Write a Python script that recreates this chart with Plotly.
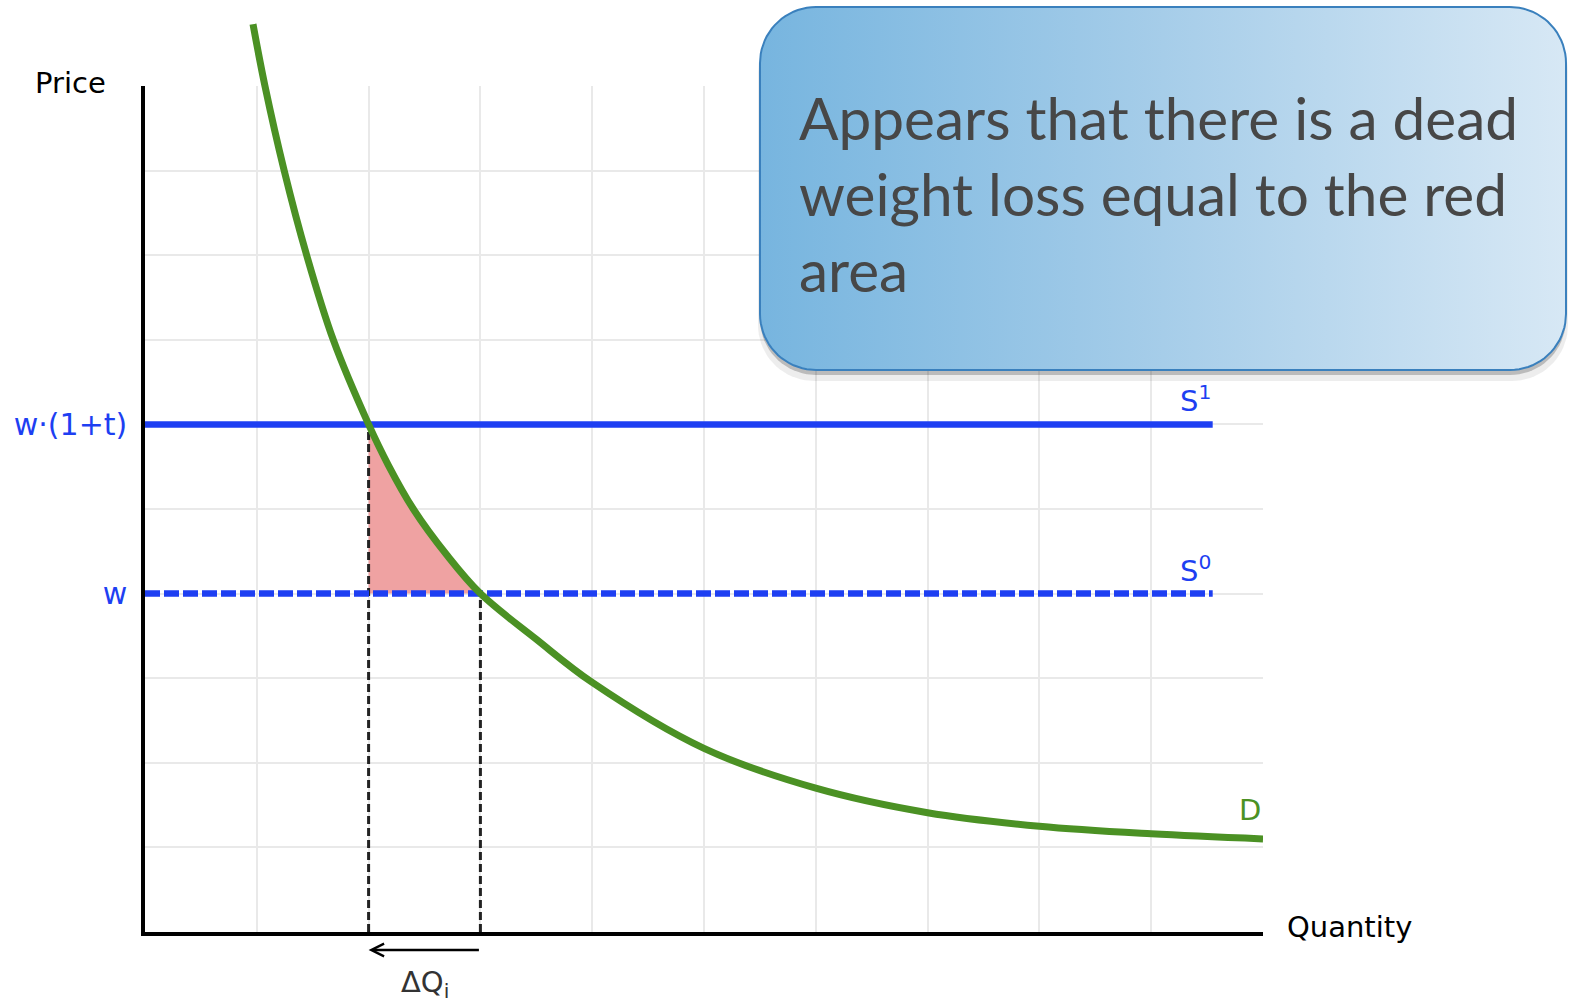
import numpy as np
import plotly.graph_objects as go

W, H = 1569, 1006

# Demand curve D (quantity, price)
demand_q = [0.966, 1.073, 1.245, 1.446, 1.684, 2.0, 2.176, 2.40, 2.70, 3.0,
            3.5, 4.0, 5.0, 6.0, 7.0, 8.0, 9.0, 10.0]
demand_p = [10.73, 10.0, 9.0, 8.0, 7.0, 6.0, 5.52, 5.0, 4.456, 4.0,
            3.46, 2.95, 2.17, 1.70, 1.41, 1.25, 1.16, 1.10]

# Supply price levels
price_taxed = 6.0      # w·(1+t)
price_base = 4.0       # w
supply_q = [0.0, 9.55]  # horizontal extent of S0 / S1

# Quantities demanded at each price
q_taxed = 2.0
q_base = 3.0

price_ticks = [price_taxed, price_base]
price_tick_text = ["w·(1+t)", "w"]

BLUE = "#1e3ff2"
GREEN = "#4b9124"
GRID = "#e9e9e9"

fig = go.Figure()

# dead weight loss area between the two price levels under the demand curve
dwl_q = [q_taxed] + [q for q in demand_q if q_taxed <= q <= q_base]
dwl_p = [price_base] + [p for q, p in zip(demand_q, demand_p) if q_taxed <= q <= q_base]
fig.add_trace(go.Scatter(x=dwl_q, y=dwl_p, fill="toself", fillcolor="#efa2a2",
                         mode="lines", line=dict(width=0), hoverinfo="skip"))

# dotted drop lines to the quantity axis
for q, p in [(q_taxed, price_taxed), (q_base, price_base)]:
    fig.add_trace(go.Scatter(x=[q, q], y=[0, p], mode="lines",
                             line=dict(color="#222222", width=3, dash="8px,4px"),
                             hoverinfo="skip"))

# supply lines
fig.add_trace(go.Scatter(x=supply_q, y=[price_taxed] * 2, mode="lines",
                         line=dict(color=BLUE, width=6.5), hoverinfo="skip"))
fig.add_trace(go.Scatter(x=supply_q, y=[price_base] * 2, mode="lines",
                         line=dict(color=BLUE, width=6.5, dash="15px,4px"),
                         hoverinfo="skip"))

# demand curve on an overlay axis pair that reaches above the grid
fig.add_trace(go.Scatter(x=demand_q, y=demand_p, mode="lines", xaxis="x2", yaxis="y2",
                         line=dict(color=GREEN, width=7, shape="spline", smoothing=1.0),
                         hoverinfo="skip"))


def rounded_rect(x0, y0, x1, y1, r, n=20):
    xs, ys = [], []
    corners = [(x1 - r, y0 + r, -90, 0), (x1 - r, y1 - r, 0, 90),
               (x0 + r, y1 - r, 90, 180), (x0 + r, y0 + r, 180, 270)]
    for cx, cy, a0, a1 in corners:
        t = np.radians(np.linspace(a0, a1, n))
        xs.extend(cx + r * np.cos(t))
        ys.extend(cy + r * np.sin(t))
    xs.append(xs[0])
    ys.append(ys[0])
    return xs, ys


bx0, by0, bx1, by1, br = 760, 7, 1566, 370, 56
for dx, dy, grow, col in [(0, 9, 2, "rgba(0,0,0,0.07)"), (0, 5, 0, "rgba(40,40,40,0.25)")]:
    sx, sy = rounded_rect(bx0 + dx - grow, by0 + dy, bx1 + dx + grow, by1 + dy + grow, br)
    fig.add_trace(go.Scatter(x=sx, y=sy, xaxis="x3", yaxis="y3", mode="lines",
                             fill="toself", fillcolor=col, line=dict(width=0),
                             hoverinfo="skip"))
cx_, cy_ = rounded_rect(bx0, by0, bx1, by1, br)
fig.add_trace(go.Scatter(x=cx_, y=cy_, xaxis="x3", yaxis="y3", mode="lines",
                         fill="toself",
                         fillgradient=dict(type="horizontal",
                                           colorscale=[[0, "#77b5df"], [0.5, "#a6cde9"], [1, "#d7e8f5"]]),
                         line=dict(color="#3a80bd", width=2), hoverinfo="skip"))

x_dom = [145 / W, 1263 / W]
y_dom = [(H - 932) / H, (H - 86) / H]
y2_dom = [(H - 932) / H, 1.0]
y2_top = 10 * (932) / (932 - 86)

fig.update_layout(
    width=W, height=H,
    margin=dict(l=0, r=0, t=0, b=0),
    paper_bgcolor="white", plot_bgcolor="rgba(0,0,0,0)",
    showlegend=False,
    xaxis=dict(domain=x_dom, range=[0, 10], tickvals=list(range(0, 11)), showticklabels=False,
               showgrid=True, gridcolor=GRID, gridwidth=1.5, zeroline=False,
               showline=True, linecolor="black", linewidth=3.5, ticks="", anchor="y",
               fixedrange=True),
    yaxis=dict(domain=y_dom, range=[0, 10], tickmode="array", tickvals=price_ticks,
               ticktext=price_tick_text, showgrid=True, gridcolor=GRID, gridwidth=1.5,
               minor=dict(dtick=1, tick0=0, showgrid=True, gridcolor=GRID, gridwidth=1.5, ticks=""),
               zeroline=False, showline=True, linecolor="black", linewidth=3.5, ticks="",
               ticklabelstandoff=8,
               tickfont=dict(family="DejaVu Sans", size=30, color=BLUE), anchor="x",
               fixedrange=True),
    xaxis2=dict(domain=x_dom, range=[0, 10], visible=False, anchor="y2", fixedrange=True),
    yaxis2=dict(domain=y2_dom, range=[0, y2_top], visible=False, anchor="x2", fixedrange=True),
    xaxis3=dict(domain=[0, 1], range=[0, W], visible=False, anchor="y3", fixedrange=True),
    yaxis3=dict(domain=[0, 1], range=[H, 0], visible=False, anchor="x3", fixedrange=True),
)

lab = dict(family="DejaVu Sans", size=29)
annotations = [
    dict(text="Price", xref="paper", yref="paper", x=70 / W, y=1 - 83 / H,
         showarrow=False, font=dict(lab, color="black"), xanchor="center", yanchor="middle"),
    dict(text="Quantity", xref="paper", yref="paper", x=1285 / W, y=1 - 927 / H,
         showarrow=False, font=dict(lab, color="black"), xanchor="left", yanchor="middle"),
    dict(text="S<sup>1</sup>", x=supply_q[1], y=price_taxed, xref="x", yref="y",
         showarrow=False, font=dict(lab, color=BLUE), xanchor="right", yanchor="bottom", yshift=4),
    dict(text="S<sup>0</sup>", x=supply_q[1], y=price_base, xref="x", yref="y",
         showarrow=False, font=dict(lab, color=BLUE), xanchor="right", yanchor="bottom", yshift=4),
    dict(text="D", x=demand_q[-1], y=demand_p[-1], xref="x", yref="y",
         showarrow=False, font=dict(lab, color=GREEN), xanchor="right", yanchor="bottom", yshift=10),
    dict(text="", x=q_taxed, y=0, ax=q_base, ay=0, xref="x", yref="y", axref="x", ayref="y",
         showarrow=True, arrowhead=5, arrowwidth=2.5, arrowsize=1, arrowcolor="black",
         yshift=-18, standoff=0),
    dict(text="ΔQ<sub>i</sub>", x=(q_taxed + q_base) / 2, y=0, xref="x", yref="y",
         showarrow=False, font=dict(lab, color="#333333"), xanchor="center", yanchor="top",
         yshift=-31),
    dict(text="Appears that there is a dead<br>weight loss equal to the red<br>area",
         xref="paper", yref="paper", x=797 / W, y=1 - 80 / H, xanchor="left", yanchor="top",
         align="left", showarrow=False,
         font=dict(family="Lato", size=58.5, color="#474747")),
]
fig.update_layout(annotations=annotations)

fig.write_html("out.html")
